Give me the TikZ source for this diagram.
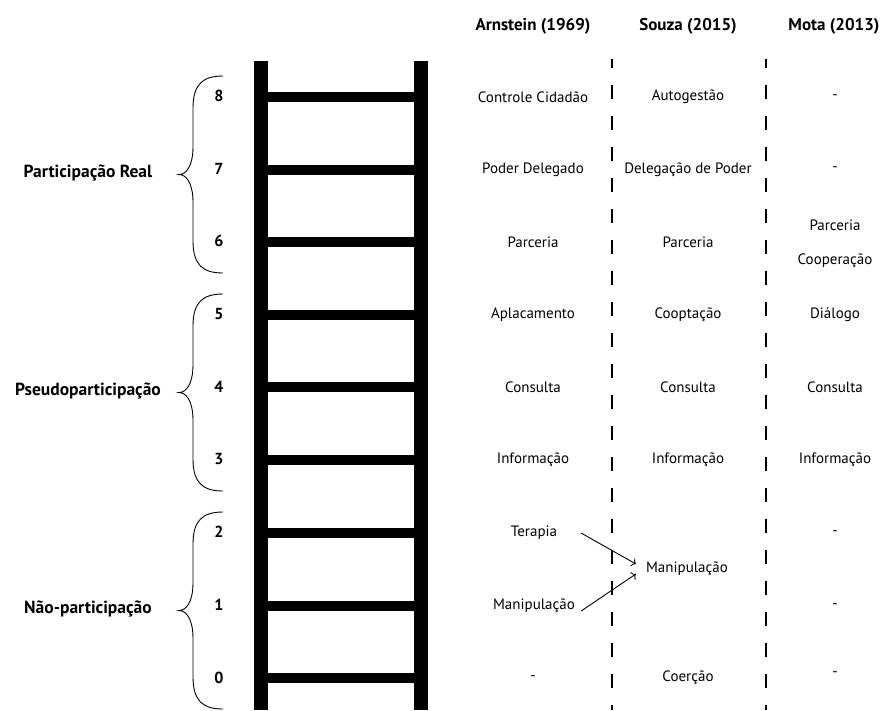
\documentclass[tikz,border=0pt]{standalone}
\usepackage{fontspec}
\setmainfont{PT Sans}
\usetikzlibrary{calc,arrows.meta,positioning}

% curly brace of a group of steps: top, bottom
\newcommand{\groupbrace}[2]{%
  \draw[curly] (223,#1) .. controls (203,#1) and (193,{#1+8}) .. (193,{#1+32})
    -- (193,{(#1+#2)/2-28}) .. controls (193,{(#1+#2)/2-8}) and (186,{(#1+#2)/2}) .. (179,{(#1+#2)/2})
    .. controls (186,{(#1+#2)/2}) and (193,{(#1+#2)/2+8}) .. (193,{(#1+#2)/2+28})
    -- (193,{#2-32}) .. controls (193,{#2-8}) and (203,#2) .. (223,#2);}

\begin{document}
\begin{tikzpicture}[x=1pt,y=-1pt,
	rail/.style={line width=14pt},
	rung/.style={line width=10pt},
	level/.style={font=\bfseries\fontsize{16}{18}\selectfont, inner sep=0pt},
	group/.style={font=\bfseries\fontsize{17.5}{20}\selectfont, inner sep=0pt},
	header/.style={font=\bfseries\fontsize{17}{20}\selectfont, inner sep=0pt},
	entry/.style={font=\fontsize{15}{18}\selectfont, inner sep=0pt},
	divider/.style={line width=1.1pt, dash pattern=on 14pt off 17pt, dash phase=5pt},
	curly/.style={line width=0.9pt},
	paths/.style={-{To[length=4pt,width=9pt]}, line width=0.9pt}
	] % End styles
\useasboundingbox (0,0) rectangle (884,710);

% ladder
\draw[rail] (261,61) -- (261,710);
\draw[rail] (421,61) -- (421,710);
\draw[rung] (268,97) -- (414,97);
\draw[rung] (268,169.5) -- (414,169.5);
\draw[rung] (268,242) -- (414,242);
\draw[rung] (268,315) -- (414,315);
\draw[rung] (268,387) -- (414,387);
\draw[rung] (268,460) -- (414,460);
\draw[rung] (268,533) -- (414,533);
\draw[rung] (268,606) -- (414,606);
\draw[rung] (268,678) -- (414,678);

% steps
\node [level] at (219,96) (n8) {8};
\node [level] at (219,169) (n7) {7};
\node [level] at (219,241) (n6) {6};
\node [level] at (219,314) (n5) {5};
\node [level] at (219,387) (n4) {4};
\node [level] at (219,459) (n3) {3};
\node [level] at (219,532) (n2) {2};
\node [level] at (219,605) (n1) {1};
\node [level] at (219,678) (n0) {0};

% groups
\groupbrace{76}{273}
\groupbrace{294}{491}
\groupbrace{512}{709}
\node [group] at (88,173) (real) {Participação Real};
\node [group] at (88,391) (pseudo) {Pseudoparticipação};
\node [group] at (88,609) (nao) {Não-participação};

% columns
\node [header] at (533,26) (arnstein) {Arnstein (1969)};
\node [header] at (688,26) (souza) {Souza (2015)};
\node [header] at (834,26) (mota) {Mota (2013)};

\draw[divider] (612,59) -- (612,710);
\draw[divider] (766,59) -- (766,710);

% Arnstein
\node [entry] at (533,97) (a8) {Controle Cidadão};
\node [entry] at (533,169.5) (a7) {Poder Delegado};
\node [entry] at (533,242) (a6) {Parceria};
\node [entry] at (533,315) (a5) {Aplacamento};
\node [entry] at (533,387) (a4) {Consulta};
\node [entry] at (533,460) (a3) {Informação};
\node [entry] at (534,533) (a2) {Terapia};
\node [entry] at (534,606) (a1) {Manipulação};
\node [entry] at (533,678) (a0) {-};

% Souza
\node [entry] at (688,97) (s8) {Autogestão};
\node [entry] at (688,169.5) (s7) {Delegação de Poder};
\node [entry] at (688,242) (s6) {Parceria};
\node [entry] at (688,315) (s5) {Cooptação};
\node [entry] at (688,387) (s4) {Consulta};
\node [entry] at (688,460) (s3) {Informação};
\node [entry] at (687,569) (s12) {Manipulação};
\node [entry] at (688,678) (s0) {Coerção};

% Mota
\node [entry] at (835,97) (m8) {-};
\node [entry] at (835,169.5) (m7) {-};
\node [entry] at (835,225) (m6a) {Parceria};
\node [entry] at (835,261) (m6b) {Cooperação};
\node [entry] at (835,315) (m5) {Diálogo};
\node [entry] at (835,387) (m4) {Consulta};
\node [entry] at (835,460) (m3) {Informação};
\node [entry] at (835,533) (m2) {-};
\node [entry] at (835,606) (m1) {-};
\node [entry] at (835,674) (m0) {-};

% paths
\draw[paths] ($(a2.east -| a1.east)+(6,0)$) -- ($(s12.west)+(-10,-5)$);
\draw[paths] ($(a1.east)+(6,5)$) -- ($(s12.west)+(-10,5)$);

\end{tikzpicture}
\end{document}
